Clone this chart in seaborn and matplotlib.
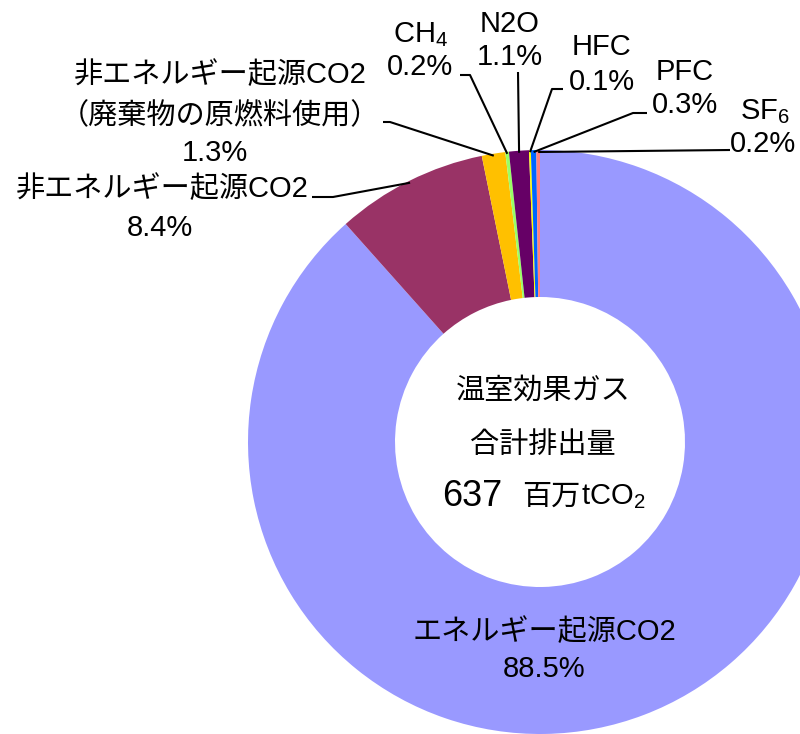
import matplotlib
matplotlib.use("Agg")
import matplotlib.pyplot as plt
import seaborn as sns
import numpy as np

# ---- data ----
categories = ["エネルギー起源CO2", "非エネルギー起源CO2", "非エネルギー起源CO2（廃棄物の原燃料使用）",
              "CH4", "N2O", "HFC", "PFC", "SF6"]
shares = [88.5, 8.4, 1.3, 0.2, 1.1, 0.1, 0.3, 0.2]
pct_labels = ["88.5%", "8.4%", "1.3%", "0.2%", "1.1%", "0.1%", "0.3%", "0.2%"]
colors = ["#9999FF", "#993366", "#FFC000", "#99FF66", "#660066", "#FFFF00", "#0066FF", "#FF8080"]
total_value = "637"
total_unit_jp = "百万"
total_unit_en = "tCO$_2$"

sns.set_theme(style="white")
plt.rcParams["font.family"] = ["Liberation Sans", "Noto Sans CJK JP"]
plt.rcParams["text.color"] = "black"
plt.rcParams["mathtext.fontset"] = "custom"
plt.rcParams["mathtext.rm"] = "Liberation Sans"
plt.rcParams["mathtext.it"] = "Liberation Sans"
plt.rcParams["mathtext.default"] = "rm"

W, H = 800, 734
fig = plt.figure(figsize=(W / 100, H / 100), dpi=100)
ax = fig.add_axes([0, 0, 1, 1])

def py(y):  # pixel-from-top to data y
    return H - y

cx, cy = 540, py(442)
R, r = 292, 145

wedges, _ = ax.pie(shares, colors=colors, startangle=90, counterclock=False,
                   radius=R, center=(cx, cy),
                   wedgeprops=dict(width=R - r, edgecolor="none", linewidth=0))
ax.set_xlim(0, W)
ax.set_ylim(0, H)
ax.set_aspect("equal")
ax.axis("off")

FS = 21
def txt(x, y, s, size=FS, ha="center"):
    return ax.text(x, py(y), s, fontsize=size, ha=ha, va="center", color="black")

def edge_point(i, rad=R - 2):
    w = wedges[i]
    ang = np.deg2rad((w.theta1 + w.theta2) / 2)
    return cx + rad * np.cos(ang), cy + rad * np.sin(ang)

def leader(i, pts):
    ex, ey = edge_point(i)
    xs = [p[0] for p in pts] + [ex]
    ys = [py(p[1]) for p in pts] + [ey]
    ax.plot(xs, ys, color="black", lw=1.5, solid_capstyle="butt")

# Energy CO2 label inside ring
txt(544, 632, "エネルギー起源CO2")
txt(544, 669, pct_labels[0])

# Non-energy CO2
txt(162, 189, "非エネルギー起源CO2")
txt(160, 228, pct_labels[1])
leader(1, [(312, 197), (333, 197)])

# Waste
txt(220, 75, "非エネルギー起源CO2")
txt(220, 116, "（廃棄物の原燃料使用）")
txt(215, 153, pct_labels[2])
leader(2, [(383, 122), (390, 122)])

# CH4
txt(421, 35, "CH$_4$")
txt(420, 67, pct_labels[3])
leader(3, [(460, 75), (470, 75)])

# N2O
txt(510, 24, "N2O")
txt(510, 57, pct_labels[4])
leader(4, [(518, 72)])

# HFC
txt(602, 47, "HFC")
txt(602, 82, pct_labels[5])
leader(5, [(563, 89), (552, 89)])

# PFC
txt(685, 72, "PFC")
txt(685, 105, pct_labels[6])
leader(6, [(647, 113), (633, 113)])

# SF6
txt(765, 112, "SF$_6$")
txt(763, 144, pct_labels[7])
leader(7, [(730, 150)])

# Center text
txt(543, 391, "温室効果ガス")
txt(543, 445, "合計排出量")
ax.text(502, py(497), total_value, fontsize=26, ha="right", va="center", color="black")
t_jp = ax.text(522, py(497), total_unit_jp, fontsize=FS, ha="left", va="center", color="black")
fig.canvas.draw()
bb = t_jp.get_window_extent(renderer=fig.canvas.get_renderer())
ax.text(bb.x1 + 1, py(497), total_unit_en, fontsize=FS, ha="left", va="center", color="black")

fig.savefig("out.png", dpi=100)
